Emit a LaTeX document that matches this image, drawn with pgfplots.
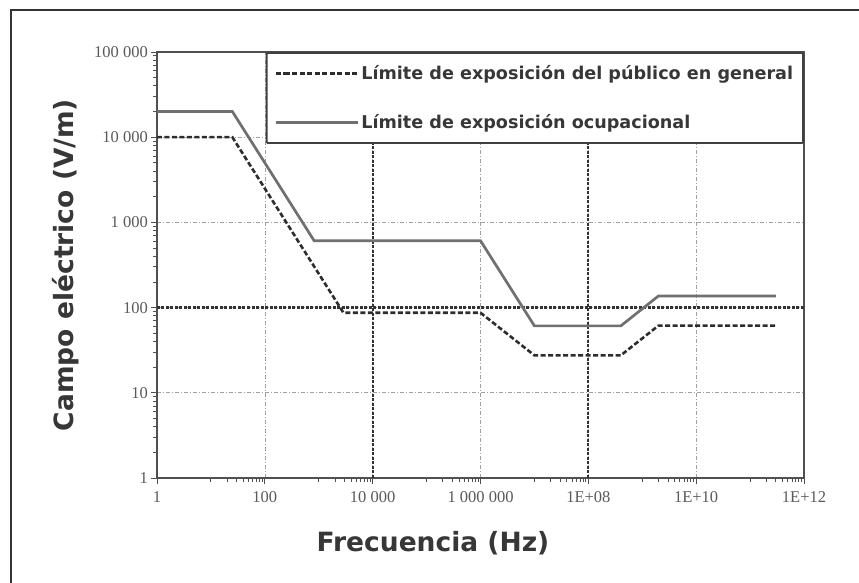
\documentclass[border=0pt]{standalone}
\usepackage{fontspec}
\setmainfont{Liberation Serif}
\newfontfamily\labfont{DejaVu Sans}
\usepackage{pgfplots}
\pgfplotsset{compat=1.18}
\definecolor{txt}{RGB}{55,55,55}
\definecolor{tickc}{RGB}{90,90,90}
\definecolor{occ}{RGB}{112,112,112}
\definecolor{pub}{RGB}{45,45,45}
\definecolor{gridc}{RGB}{160,160,160}
\definecolor{axc}{RGB}{80,80,80}
\newcommand{\tickfont}{\fontsize{16.5}{18}\selectfont}
\newcommand{\axlabfont}{\labfont\bfseries\fontsize{26.5}{30}\selectfont}
\newcommand{\legfont}{\labfont\bfseries\fontsize{17.6}{20}\selectfont}
\tikzset{heavygrid/.style={draw=black!80, line width=2.2pt, dash pattern=on 3pt off 1.5pt}}
\begin{document}
\begin{tikzpicture}
\useasboundingbox (-157pt,-105pt) rectangle (702pt,478pt);
\fill[white] (-157pt,-105pt) rectangle (702pt,478pt);
\draw[line width=1.3pt, black!80] (-146pt,-106pt) -- (-146pt,468pt) -- (703pt,468pt);
\begin{axis}[
  at={(0pt,0pt)}, anchor=south west,
  scale only axis, width=647pt, height=426pt,
  xmode=log, ymode=log,
  xmin=1, xmax=1e12, ymin=1, ymax=1e5,
  xtick={1,1e2,1e4,1e6,1e8,1e10,1e12},
  xticklabels={1,100,10~000,1~000~000,1E+08,1E+10,1E+12},
  ytick={1,10,100,1000,10000,100000},
  yticklabels={1,10,100,1~000,10~000,100~000},
  minor xtick={10,20,30,40,50,60,70,80,90,
    1000,2000,3000,4000,5000,6000,7000,8000,9000,
    1e5,2e5,3e5,4e5,5e5,6e5,7e5,8e5,9e5,
    1e7,2e7,3e7,4e7,5e7,6e7,7e7,8e7,9e7,
    1e9,2e9,3e9,4e9,5e9,6e9,7e9,8e9,9e9,
    1e11,2e11,3e11,4e11,5e11,6e11,7e11,8e11,9e11},
  minor ytick={2,3,4,5,6,7,8,9,20,30,40,50,60,70,80,90,
    200,300,400,500,600,700,800,900,
    2000,3000,4000,5000,6000,7000,8000,9000,
    20000,30000,40000,50000,60000,70000,80000,90000},
  tick pos=left, tick align=outside,
  major tick length=6pt, minor tick length=4pt,
  tick style={draw=axc, line width=0.9pt},
  axis line style={draw=axc, line width=1.6pt},
  grid=major,
  major grid style={draw=gridc, line width=0.6pt, dash pattern=on 4pt off 2pt on 1pt off 2pt},
  xticklabel style={font=\tickfont, text=tickc},
  yticklabel style={font=\tickfont, text=tickc, inner xsep=3pt},
  xticklabel shift=4pt,
  xlabel={Frecuencia (Hz)},
  ylabel={Campo eléctrico (V/m)},
  xlabel style={at={(axis description cs:0.4266,-0.1526)}, anchor=center, font=\axlabfont, text=txt},
  ylabel style={at={(axis description cs:-0.1406,0.5)}, anchor=center, font=\axlabfont, text=txt},
  legend cell align=left,
  legend image code/.code={\path (0pt,0pt) -- (9pt,0pt); \draw[#1] (9pt,0pt) -- (82pt,0pt);},
  legend style={at={(rel axis cs:1,1)}, anchor=north east,
    draw=black!75, line width=1.8pt, fill=white, rounded corners=1pt,
    inner xsep=8pt, inner ysep=11pt, row sep=29pt,
    font=\legfont, text=txt,
    /tikz/every even column/.append style={column sep=11pt}},
]
\draw[heavygrid] (axis cs:1e4,1) -- (axis cs:1e4,1e5);
\draw[heavygrid] (axis cs:1e8,1) -- (axis cs:1e8,1e5);
\draw[heavygrid] (axis cs:1,100) -- (axis cs:1e12,100);
\addplot[pub, line width=2.6pt, dash pattern=on 5pt off 2.5pt] coordinates {
  (1,10000) (25,10000) (2870,87) (1e6,87) (1e7,27.5) (4e8,27.5) (2e9,61.5) (3e11,61.5)};
\addlegendentry{Límite de exposición del público en general}
\addplot[occ, line width=2.7pt] coordinates {
  (1,20000) (25,20000) (820,610) (1e6,610) (1e7,61) (4e8,61) (2e9,137) (3e11,137)};
\addlegendentry{Límite de exposición ocupacional}
\end{axis}
\end{tikzpicture}
\end{document}
